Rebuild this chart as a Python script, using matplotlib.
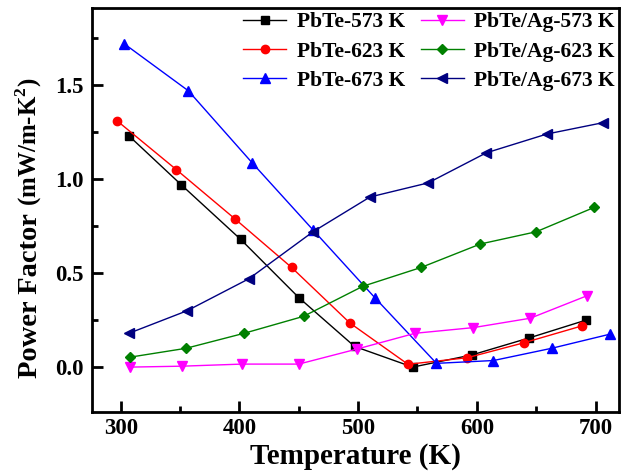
import matplotlib.pyplot as plt
from matplotlib.ticker import MultipleLocator

plt.rcParams['font.family'] = 'Liberation Serif'
plt.rcParams['font.weight'] = 'bold'
plt.rcParams['mathtext.fontset'] = 'custom'
plt.rcParams['mathtext.rm'] = 'Liberation Serif:bold'
plt.rcParams['mathtext.bf'] = 'Liberation Serif:bold'

# PbTe samples
t_573 = [307, 351, 401, 450, 497, 546, 596, 644, 692]
pf_573 = [1.23, 0.97, 0.68, 0.37, 0.11, 0.00, 0.065, 0.155, 0.25]
t_623 = [297, 347, 396, 444, 493, 542, 592, 640, 689]
pf_623 = [1.31, 1.05, 0.79, 0.53, 0.235, 0.015, 0.05, 0.13, 0.22]
t_673 = [303, 357, 411, 462, 514, 566, 614, 663, 712]
pf_673 = [1.72, 1.47, 1.085, 0.73, 0.37, 0.02, 0.035, 0.10, 0.175]

# PbTe/Ag samples
t_ag573 = [308, 352, 402, 450, 499, 548, 597, 645, 693]
pf_ag573 = [0.0, 0.005, 0.016, 0.016, 0.096, 0.18, 0.21, 0.26, 0.38]
t_ag623 = [308, 355, 404, 454, 504, 553, 603, 650, 699]
pf_ag623 = [0.053, 0.10, 0.18, 0.27, 0.43, 0.53, 0.655, 0.72, 0.85]
t_ag673 = [307, 356, 408, 462, 510, 559, 608, 659, 706]
pf_ag673 = [0.18, 0.30, 0.47, 0.72, 0.905, 0.98, 1.14, 1.24, 1.30]

fig = plt.figure(figsize=(6.23, 4.76), dpi=100)
ax = fig.add_axes([0.148, 0.134, 0.846, 0.849])

ms = 6
ax.plot(t_573, pf_573, color='black', marker='s', ms=ms, lw=1, label='PbTe-573 K')
ax.plot(t_623, pf_623, color='red', marker='o', ms=ms, lw=1, label='PbTe-623 K')
ax.plot(t_673, pf_673, color='blue', marker='^', ms=ms + 1.5, lw=1, label='PbTe-673 K')
ax.plot(t_ag573, pf_ag573, color='magenta', marker='v', ms=ms + 1.5, lw=1, label='PbTe/Ag-573 K')
ax.plot(t_ag623, pf_ag623, color='green', marker='D', ms=ms - 0.5, lw=1, label='PbTe/Ag-623 K')
ax.plot(t_ag673, pf_ag673, color='navy', marker='<', ms=ms + 1.5, lw=1, label='PbTe/Ag-673 K')

ax.set_xlim(276, 720)
ax.set_ylim(-0.24, 1.91)
ax.xaxis.set_major_locator(MultipleLocator(100))
ax.xaxis.set_minor_locator(MultipleLocator(50))
ax.yaxis.set_major_locator(MultipleLocator(0.5))
ax.yaxis.set_minor_locator(MultipleLocator(0.25))
ax.tick_params(which='both', direction='in', top=False, right=False, width=2,
               labelsize=16.5)
ax.tick_params(which='major', length=8, pad=6)
ax.tick_params(axis='x', which='major', pad=4)
ax.tick_params(which='minor', length=4)
for s in ax.spines.values():
    s.set_linewidth(2)

ax.set_xlabel('Temperature (K)', fontsize=21, fontweight='bold', labelpad=3)

# y label: large main part, smaller units part
t1 = fig.text(0.059, 0.206, 'Power Factor ', rotation=90, rotation_mode='anchor',
              ha='left', va='baseline', fontsize=20.5, fontweight='bold')
fig.canvas.draw()
bb = t1.get_window_extent()
fig.text(0.059, bb.y1 / fig.bbox.height, '(mW/m-K$^{2}$)', rotation=90,
         rotation_mode='anchor', ha='left', va='baseline', fontsize=18,
         fontweight='bold')

ax.legend(ncol=2, loc='upper right', frameon=False, fontsize=15.5,
          handlelength=2.0, columnspacing=0.7, labelspacing=0.42,
          handletextpad=0.5, borderaxespad=0.1, borderpad=0.1)

fig.savefig('out.png', dpi=100)
